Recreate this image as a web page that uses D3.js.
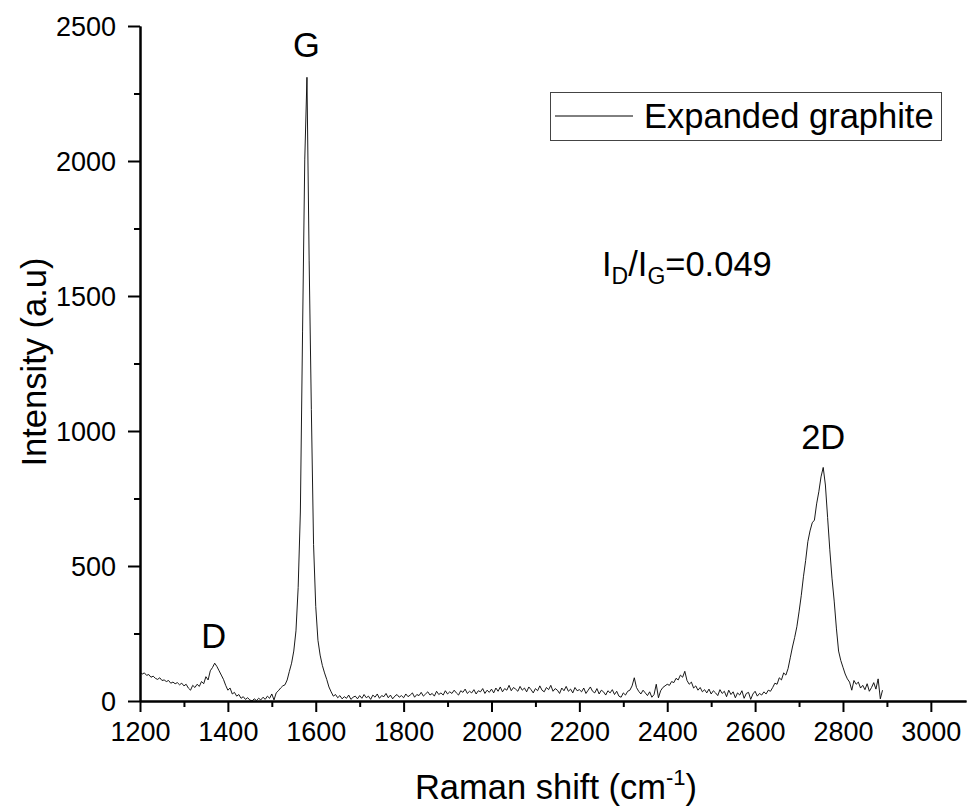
<!DOCTYPE html>
<html>
<head>
<meta charset="utf-8">
<script src="https://cdn.jsdelivr.net/npm/d3@7"></script>
<style>
body { margin: 0; background: #fff; }
text { font-family: "Liberation Sans", Arial, sans-serif; fill: #000; }
</style>
</head>
<body>
<script>
//Raman spectrum of expanded graphite, redrawn with d3

//spectrum grid: first shift and spacing of the readings (cm-1)
var shiftStart = 1200;
var shiftStep = 5;

//intensity readings (a.u), one row per 100 cm-1
var intensity = [
	108,100,104,95,98,88,92,84,80,86,76,78,72,76,66,70,64,68,60,66, //1200
	56,62,48,40,58,50,62,54,72,64,90,78,112,124,140,128,112,96,80,58, //1300
	40,48,26,32,18,24,10,16,6,12,4,0,8,2,10,4,14,6,18,10, //1400
	26,4,30,38,48,56,60,78,110,140,185,260,420,700,1370,2004,2310,1630,1080,580, //1500
	350,225,170,132,104,80,52,34,18,24,12,20,8,16,10,22,6,14,18,8, //1600
	20,10,24,12,18,6,22,14,26,10,20,16,28,12,22,8,18,24,14,20, //1700
	12,26,16,22,30,14,24,20,32,18,26,34,22,28,18,36,24,30,22,38, //1800
	26,34,28,40,30,22,38,32,44,28,36,30,42,26,38,34,46,28,40,32, //1900
	44,30,48,36,52,34,46,40,58,38,50,44,36,54,40,48,34,52,42,30, //2000
	46,38,56,40,34,50,42,58,36,46,40,28,48,38,54,36,44,30,50,38, //2100
	42,34,48,28,40,52,36,30,46,26,40,34,22,38,30,42,24,36,18,14, //2200
	30,22,36,40,56,86,50,36,26,40,30,20,34,14,24,62,12,38,50,56, //2300
	62,58,72,68,84,78,96,88,110,76,62,70,48,56,40,50,34,42,30,44, //2400
	26,38,30,20,42,28,36,16,40,24,34,12,30,22,38,10,28,32,6,26, //2500
	36,18,28,22,34,26,40,36,50,66,62,86,78,104,96,120,160,200,235,275, //2600
	330,390,460,520,590,630,660,670,730,775,830,865,800,680,560,455,370,270,185,150, //2700
	125,100,82,70,40,76,62,70,48,58,42,64,36,50,68,44,82,8,40 //2800
];

//axis ticks
var xTicks = [1200, 1400, 1600, 1800, 2000, 2200, 2400, 2600, 2800, 3000];
var yTicks = [0, 500, 1000, 1500, 2000, 2500];

//text on the chart
var seriesName = "Expanded graphite";
var peakLabels = [["G", 1579, 2385], ["D", 1368, 195], ["2D", 2755, 935]]; //[label, shift, intensity above peak]

//pair up the readings
var spectrum = intensity.map(function(v, i) {
	return [shiftStart + i * shiftStep, v];
});

//drawing vars
var w = 967;
var h = 808;
var padLeft = 140; //y axis position
var padRight = 966; //end of x axis
var yTop = 26; //y of 2500
var yBottom = 701; //y of 0

var xScale = d3.scaleLinear()
			.domain([1200, 3080])
			.range([padLeft, padRight]);

var yScale = d3.scaleLinear()
			.domain([0, 2500])
			.range([yBottom, yTop]);

var svg = d3.select("body")
			.append("svg")
			.attr("width", w)
			.attr("height", h);

//the spectrum line
var line = d3.line()
			.x(function(d){ return xScale(d[0]); })
			.y(function(d){ return yScale(d[1]); });

svg.append("path")
	.datum(spectrum)
	.attr("d", line)
	.attr("fill", "none")
	.attr("stroke", "#000")
	.attr("stroke-width", 0.9)
	.attr("stroke-linejoin", "round");

//x axis, major ticks with labels
var xAxis = d3.axisBottom(xScale)
			.tickValues(xTicks)
			.tickFormat(d3.format("d"))
			.tickSizeInner(11)
			.tickSizeOuter(0)
			.tickPadding(9);

var gx = svg.append("g")
	.attr("transform", "translate(0," + yBottom + ")")
	.call(xAxis);

//minor x ticks between the majors
svg.append("g")
	.attr("transform", "translate(0," + yBottom + ")")
	.call(d3.axisBottom(xScale)
		.tickValues(xTicks.map(function(d){ return d + 100; }))
		.tickFormat("")
		.tickSizeInner(6)
		.tickSizeOuter(0));

//y axis
var yAxis = d3.axisLeft(yScale)
			.tickValues(yTicks)
			.tickFormat(d3.format("d"))
			.tickSizeInner(12)
			.tickSizeOuter(0)
			.tickPadding(12);

var gy = svg.append("g")
	.attr("transform", "translate(" + padLeft + ",0)")
	.call(yAxis);

svg.append("g")
	.attr("transform", "translate(" + padLeft + ",0)")
	.call(d3.axisLeft(yScale)
		.tickValues(yTicks.slice(0, -1).map(function(d){ return d + 250; }))
		.tickFormat("")
		.tickSizeInner(6)
		.tickSizeOuter(0));

//style both axes
svg.selectAll(".domain")
	.attr("stroke", "#000")
	.attr("stroke-width", 2);

svg.selectAll(".tick line")
	.attr("stroke", "#000")
	.attr("stroke-width", 2);

svg.selectAll(".tick text")
	.attr("font-size", "27px")
	.attr("font-family", "Liberation Sans, Arial, sans-serif");

gx.selectAll(".tick text").attr("dy", "0.75em");
gy.selectAll(".tick text").attr("dy", "0.36em");

//axis titles
var xTitle = svg.append("text")
	.attr("x", 556)
	.attr("y", 799)
	.attr("text-anchor", "middle")
	.attr("font-size", "34.5px");

xTitle.append("tspan").text("Raman shift (cm");
xTitle.append("tspan").text("-1").attr("font-size", "22px").attr("dy", -14);
xTitle.append("tspan").text(")").attr("dy", 14);

svg.append("text")
	.attr("transform", "translate(46,362) rotate(-90)")
	.attr("text-anchor", "middle")
	.attr("font-size", "34.5px")
	.text("Intensity (a.u)");

//peak labels
svg.selectAll(".peak")
	.data(peakLabels)
	.enter()
	.append("text")
	.attr("class", "peak")
	.attr("x", function(d){ return xScale(d[1]); })
	.attr("y", function(d){ return yScale(d[2]); })
	.attr("text-anchor", "middle")
	.attr("font-size", "34.5px")
	.text(function(d){ return d[0]; });

//ratio note
var ratio = svg.append("text")
	.attr("x", 602)
	.attr("y", 276)
	.attr("font-size", "34.5px");

ratio.append("tspan").text("I");
ratio.append("tspan").text("D").attr("font-size", "23px").attr("dy", 8);
ratio.append("tspan").text("/I").attr("dy", -8);
ratio.append("tspan").text("G").attr("font-size", "23px").attr("dy", 8);
ratio.append("tspan").text("=0.049").attr("dy", -8);

//legend
svg.append("rect")
	.attr("x", 550.5)
	.attr("y", 92.5)
	.attr("width", 391)
	.attr("height", 48)
	.attr("fill", "#fff")
	.attr("stroke", "#444")
	.attr("stroke-width", 1);

svg.append("line")
	.attr("x1", 555)
	.attr("x2", 633)
	.attr("y1", 116)
	.attr("y2", 116)
	.attr("stroke", "#000")
	.attr("stroke-width", 1);

svg.append("text")
	.attr("x", 644)
	.attr("y", 128)
	.attr("font-size", "34.5px")
	.text(seriesName);
</script>
</body>
</html>
